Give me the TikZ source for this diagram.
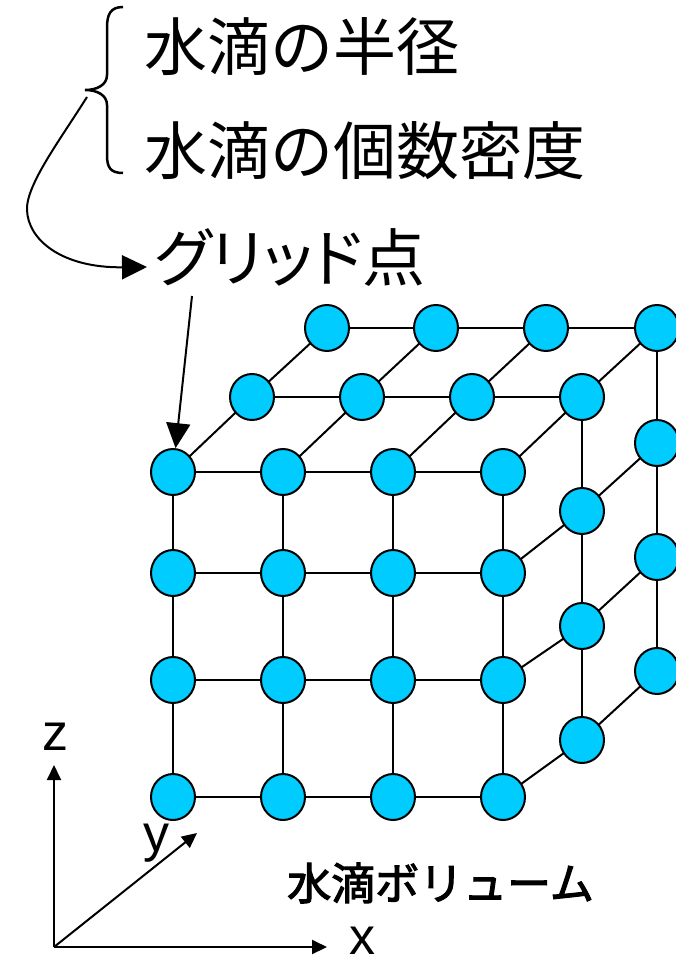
\documentclass[tikz,border=0pt]{standalone}
\usepackage{fontspec}
\usetikzlibrary{shapes.geometric,arrows.meta}
\newfontfamily\jpfont{Noto Sans CJK JP}
\newfontfamily\jppfont[RawFeature=+palt]{Noto Sans CJK JP}
\newfontfamily\jpfbfont[FakeBold=2.5]{Noto Sans CJK JP}
\newfontfamily\latfont{Liberation Sans}
\definecolor{dropblue}{RGB}{0,204,255}
\tikzset{
  dot/.style={ellipse,draw=black,fill=dropblue,line width=2pt,minimum width=44pt,minimum height=46pt,inner sep=0pt},
  gridline/.style={draw=black,line width=2pt},
  bigtext/.style={anchor=west,inner sep=0pt,font=\jpfont\fontsize{63}{70}\selectfont},
  bigarrow/.style={line width=2pt,-{Triangle[length=25pt,width=24pt]}},
  axisarrow/.style={line width=2pt,-{Triangle[length=15pt,width=14pt]}},
  axislabel/.style={inner sep=0pt,anchor=base,font=\latfont\fontsize{52}{60}\selectfont}
}
\begin{document}
\begin{tikzpicture}[x=1pt,y=-1pt]
\useasboundingbox (0,0) rectangle (675,965);
% ---- texts
\node[bigtext] (t1) at (144,47) {水滴の半径};
\node[bigtext] (t2) at (144,151) {水滴の個数密度};
\node[bigtext,font=\jppfont\fontsize{63}{70}\selectfont] (t3) at (154,258) {グリッド点};
\node[anchor=west,inner sep=0pt,font=\jpfbfont\fontsize{44}{50}\selectfont] (t4) at (287,883) {水滴ボリューム};
% ---- brace
\draw[line width=2.5pt] (123,7) .. controls (110,7) and (107,15) .. (107,28) -- (107,75)
  .. controls (107,85) and (97,90) .. (85,90)
  .. controls (97,90) and (107,95) .. (107,105) -- (107,155)
  .. controls (107,167) and (110,173) .. (123,173);
\coordinate (bt) at (87,97);
\coordinate (tin) at (147,267);
\draw[bigarrow] (bt) .. controls (60,140) and (26,185) .. (27,210)
  .. controls (28,240) and (62,268) .. (tin);
% ---- grid nodes
% front face
\foreach \i/\x in {1/173,2/283,3/393,4/503}{
  \foreach \j/\y in {1/472,2/573,3/680,4/797}{
    \coordinate (pf\i\j) at (\x,\y);
  }
}
% middle layer: top row and right column
\foreach \i/\x in {1/252,2/362,3/472,4/582}{\coordinate (pm\i1) at (\x,397);}
\foreach \j/\y in {2/511,3/626,4/740}{\coordinate (pm4\j) at (582,\y);}
% back layer
\foreach \i/\x in {1/327,2/436,3/546,4/657}{\coordinate (pb\i1) at (\x,328);}
\foreach \j/\y in {2/443,3/557,4/671}{\coordinate (pb4\j) at (657,\y);}
% edges
\foreach \j in {1,2,3,4}{\draw[gridline] (pf1\j) -- (pf2\j) -- (pf3\j) -- (pf4\j);}
\foreach \i in {1,2,3,4}{\draw[gridline] (pf\i1) -- (pf\i2) -- (pf\i3) -- (pf\i4);}
\draw[gridline] (pm11) -- (pm21) -- (pm31) -- (pm41);
\draw[gridline] (pb11) -- (pb21) -- (pb31) -- (pb41);
\draw[gridline] (pm41) -- (pm42) -- (pm43) -- (pm44);
\draw[gridline] (pb41) -- (pb42) -- (pb43) -- (pb44);
\foreach \i in {1,2,3,4}{\draw[gridline] (pf\i1) -- (pm\i1) -- (pb\i1);}
\foreach \j in {2,3,4}{\draw[gridline] (pf4\j) -- (pm4\j) -- (pb4\j);}
% circles
\foreach \i in {1,2,3,4}{\foreach \j in {1,2,3,4}{\node[dot] (f\i\j) at (pf\i\j) {};}}
\foreach \i in {1,2,3,4}{\node[dot] (m\i1) at (pm\i1) {}; \node[dot] (b\i1) at (pb\i1) {};}
\foreach \j in {2,3,4}{\node[dot] (m4\j) at (pm4\j) {}; \node[dot] (b4\j) at (pb4\j) {};}
% arrow to grid point
\coordinate (ga) at (192,296);
\draw[bigarrow] (ga) -- (f11);
% ---- axes
\coordinate (o) at (54,947);
\coordinate (zt) at (54,765);
\coordinate (xt) at (327,947);
\coordinate (yt) at (197,833);
\draw[axisarrow] (o) -- (zt);
\draw[axisarrow] (o) -- (xt);
\draw[axisarrow] (o) -- (yt);
\node[axislabel] (zl) at (55,750) {z};
\node[axislabel] (yl) at (156,851) {y};
\node[axislabel] (xl) at (362,954) {x};
\end{tikzpicture}
\end{document}
